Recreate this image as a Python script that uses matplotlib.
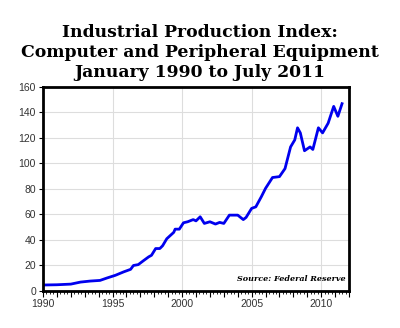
import matplotlib
matplotlib.use('Agg')
import matplotlib.pyplot as plt
from matplotlib.ticker import MultipleLocator

# index values (year as decimal, index value)
years = [1990.0, 1991.0, 1992.0, 1992.7, 1993.4, 1994.1, 1994.6, 1995.2, 1995.8,
         1996.3, 1996.5, 1996.85, 1997.2, 1997.6, 1997.8, 1998.1, 1998.4, 1998.6,
         1998.9, 1999.4, 1999.5, 1999.8, 2000.1, 2000.4, 2000.8, 2001.0, 2001.3,
         2001.6, 2002.0, 2002.4, 2002.7, 2003.0, 2003.4, 2004.0, 2004.4, 2004.6,
         2005.0, 2005.3, 2005.7, 2006.0, 2006.5, 2007.0, 2007.4, 2007.8, 2008.1,
         2008.3, 2008.5, 2008.8, 2009.2, 2009.4, 2009.8, 2010.1, 2010.5, 2010.9,
         2011.2, 2011.5]
index = [4.7, 4.9, 5.4, 7.0, 7.8, 8.3, 10.2, 12.3, 15.0,
         17.0, 20.0, 20.7, 23.6, 26.8, 28.0, 33.3, 33.3, 35.5,
         41.0, 46.0, 48.5, 48.5, 53.5, 54.3, 56.0, 55.0, 58.2,
         53.0, 54.3, 52.5, 53.8, 53.0, 59.5, 59.5, 56.0, 57.7,
         64.8, 66.0, 74.0, 80.5, 89.0, 89.7, 96.0, 113.0, 118.5,
         128.0, 124.0, 110.0, 113.0, 111.0, 128.0, 124.0, 131.6, 144.8,
         137.0, 146.9]
title_lines = ['Industrial Production Index:', 'Computer and Peripheral Equipment',
               'January 1990 to July 2011']

fig = plt.figure(figsize=(4, 3.28), dpi=100)
ax = fig.add_axes([0.1075, 0.1128, 0.765, 0.622])

ax.plot(years, index, color='#0000ee', linewidth=2)

ax.set_xlim(1990, 2012)
ax.set_ylim(0, 160)
ax.yaxis.set_major_locator(MultipleLocator(20))
ax.xaxis.set_major_locator(MultipleLocator(1))
ax.xaxis.set_minor_locator(MultipleLocator(0.25))
ax.xaxis.set_major_formatter(plt.FuncFormatter(lambda v, p: '%d' % v if int(v) % 5 == 0 else ''))

# light gridlines
for y in range(20, 160, 20):
    ax.axhline(y, color='#dddddd', linewidth=0.8, zorder=0)
for x in [1995, 2000, 2005, 2010]:
    ax.axvline(x, color='#dddddd', linewidth=0.8, zorder=0)

for s in ax.spines.values():
    s.set_linewidth(2)
ax.tick_params(axis='both', labelsize=7.5, labelcolor='#333333', width=0.8)
for lab in ax.get_xticklabels() + ax.get_yticklabels():
    lab.set_family('Liberation Sans')
ax.tick_params(axis='x', which='major', length=4, pad=2)
ax.tick_params(axis='x', which='minor', length=2, width=0.6)
ax.tick_params(axis='y', length=3, pad=2)

ax.text(0.99, 0.04, 'Source: Federal Reserve', transform=ax.transAxes, ha='right', va='bottom',
        family='DejaVu Serif', fontsize=5.8, fontweight='bold', style='italic')

for i, line in enumerate(title_lines):
    fig.text(0.5, 0.902 - i * 0.061, line, ha='center', va='center',
             family='DejaVu Serif', fontweight='bold', fontsize=12.4)

fig.savefig('out.png', dpi=100)
